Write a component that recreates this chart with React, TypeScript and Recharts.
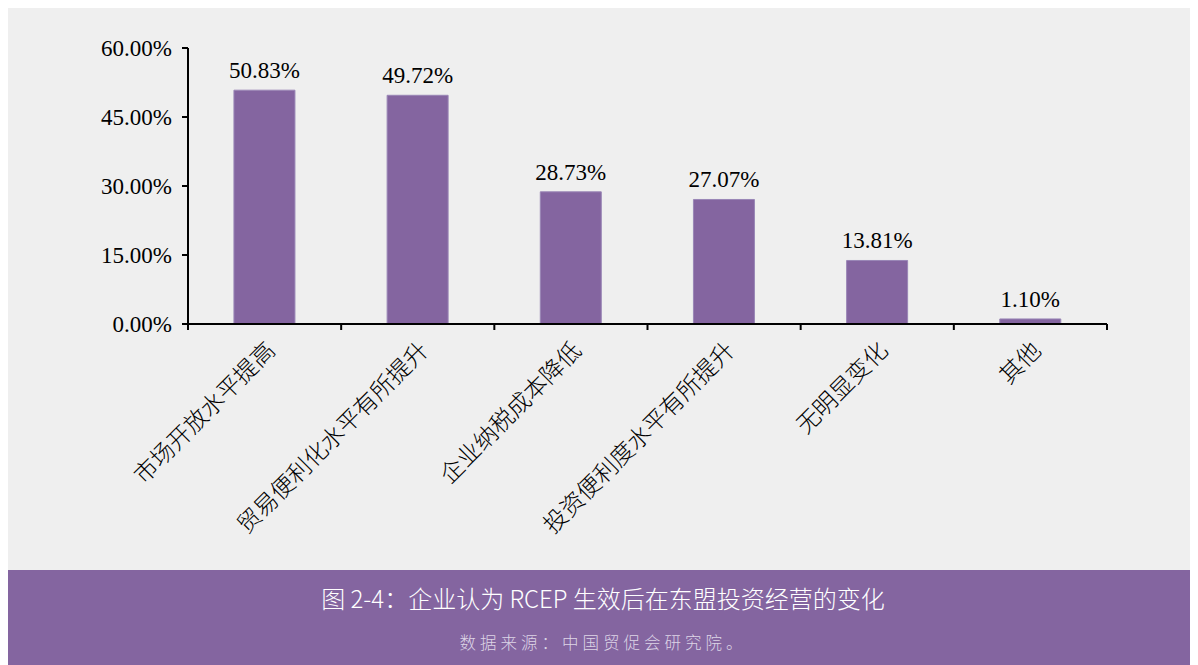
import React from 'react';
import { BarChart, Bar, XAxis, YAxis, LabelList } from 'recharts';

const categories = ['市场开放水平提高', '贸易便利化水平有所提升', '企业纳税成本降低', '投资便利度水平有所提升', '无明显变化', '其他'];
const values = [50.83, 49.72, 28.73, 27.07, 13.81, 1.1];
const yTicks = [0, 15, 30, 45, 60];
const titleText = '图 2-4：企业认为 RCEP 生效后在东盟投资经营的变化';
const sourceText = '数据来源：中国贸促会研究院。';

const data = categories.map((name, i) => ({ name, value: values[i] }));

const PURPLE = '#8465a0';
const BG = '#efefef';
const SERIF = '"Liberation Serif", "Times New Roman", serif';
const CJK = '"Noto Sans CJK SC", sans-serif';

const CategoryTick = (props: any) => {
  const { x, y, payload, index, visibleTicksCount, width } = props;
  const band = width && visibleTicksCount ? width / visibleTicksCount : (payload?.offset || 0) * 2;
  const half = band / 2;
  const isLast = index === visibleTicksCount - 1;
  return (
    <g>
      <line x1={x - half} y1={y} x2={x - half} y2={y + 6} stroke="#000" strokeWidth={2} />
      {isLast && <line x1={x + half} y1={y} x2={x + half} y2={y + 6} stroke="#000" strokeWidth={2} />}
      <text
        x={x + 12}
        y={y + 28}
        transform={`rotate(-45, ${x + 12}, ${y + 28})`}
        textAnchor="end"
        fontFamily={CJK}
        fontSize={23.5}
        fontWeight={300}
        fill="#000"
      >
        {payload.value}
      </text>
    </g>
  );
};

export default function App() {
  return (
    <div style={{ width: 1190 }}>
      <div style={{ width: 1190, height: 562, background: BG }}>
        <BarChart width={1190} height={562} data={data} margin={{ top: 40, right: 91, bottom: 0, left: 0 }} barCategoryGap="30%">
          <XAxis
            dataKey="name"
            height={246}
            interval={0}
            axisLine={{ stroke: '#000', strokeWidth: 2 }}
            tickLine={false}
            tickSize={0}
            tickMargin={0}
            tick={<CategoryTick />}
          />
          <YAxis
            width={180}
            domain={[0, 60]}
            ticks={yTicks}
            interval={0}
            tickFormatter={(v: number) => v.toFixed(2) + '%'}
            axisLine={{ stroke: '#000', strokeWidth: 2 }}
            tickLine={{ stroke: '#000', strokeWidth: 2 }}
            tickSize={6}
            tickMargin={10}
            tick={{ fontFamily: SERIF, fontSize: 23, fill: '#000' }}
          />
          <Bar dataKey="value" fill={PURPLE} stroke="#9a86b6" strokeWidth={1} isAnimationActive={false}>
            <LabelList
              dataKey="value"
              position="top"
              offset={12}
              formatter={(v: any) => Number(v).toFixed(2) + '%'}
              style={{ fontFamily: SERIF, fontSize: 23, fill: '#000' }}
            />
          </Bar>
        </BarChart>
      </div>
      <div
        style={{
          width: 1190,
          height: 100,
          background: PURPLE,
          fontFamily: CJK,
          textAlign: 'center',
          position: 'relative',
        }}
      >
        <div style={{ position: 'absolute', left: 0, right: 0, top: 13, fontSize: 24, fontWeight: 300, lineHeight: '30px', color: '#ffffff' }}>
          {titleText}
        </div>
        <div style={{ position: 'absolute', left: 0, right: 0, top: 60, fontSize: 16.5, fontWeight: 300, lineHeight: '24px', letterSpacing: 4, color: '#ddd5e6' }}>
          {sourceText}
        </div>
      </div>
    </div>
  );
}
